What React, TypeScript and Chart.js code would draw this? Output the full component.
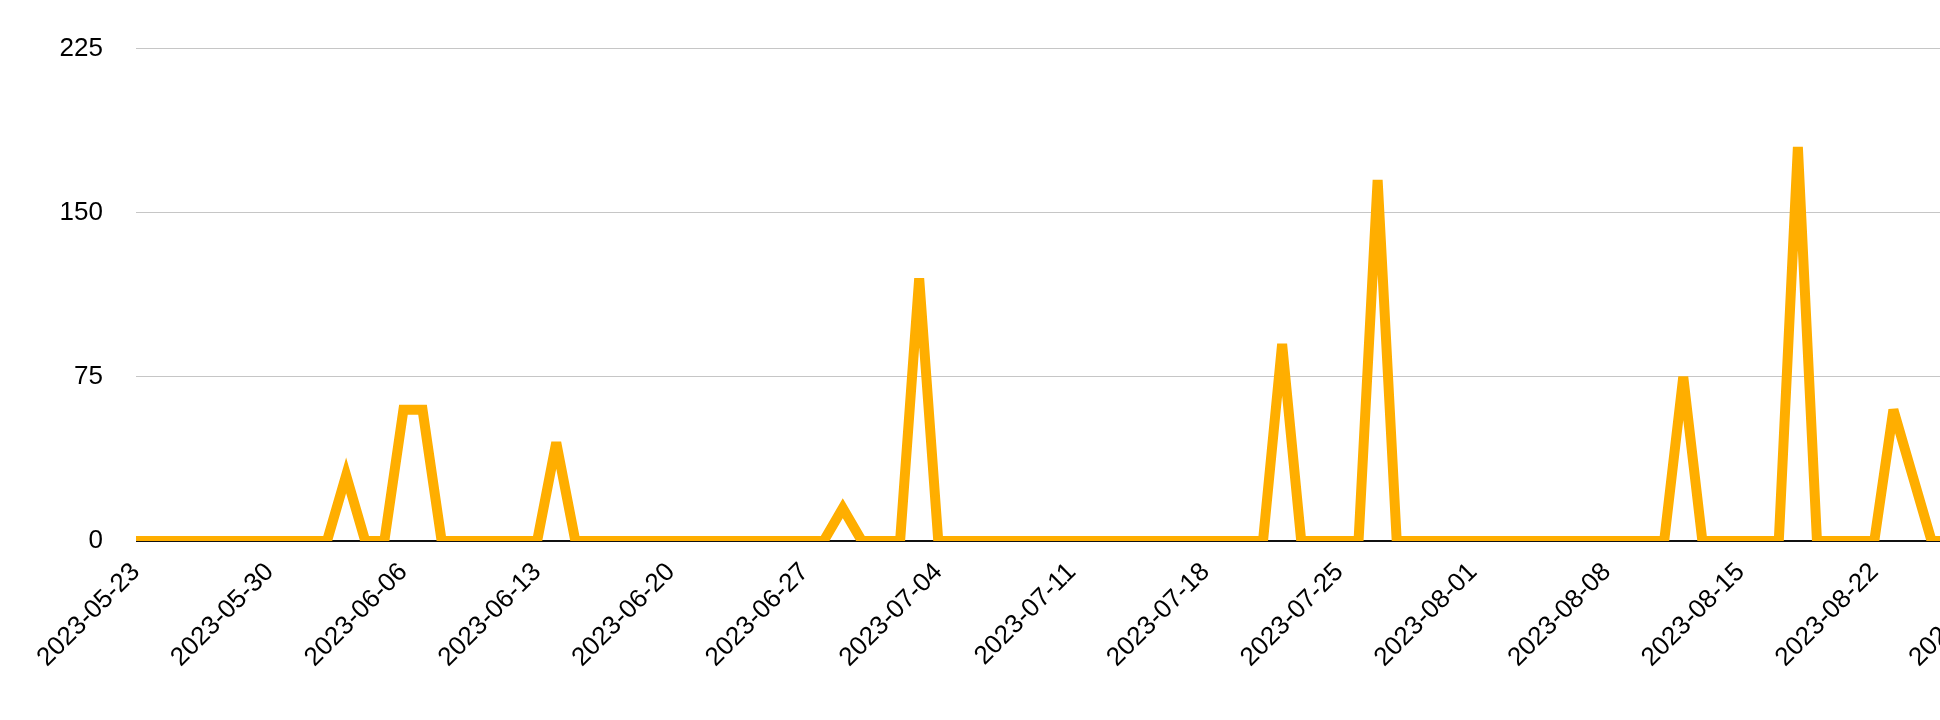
import React, { useEffect, useRef } from "react";
import { Chart, registerables } from "chart.js";

Chart.register(...registerables);

// Category labels: one per day
const mayDays: string[] = [
  "2023-05-23", "2023-05-24", "2023-05-25", "2023-05-26", "2023-05-27", "2023-05-28", "2023-05-29",
  "2023-05-30", "2023-05-31",
];
const juneDays: string[] = [
  "2023-06-01", "2023-06-02", "2023-06-03", "2023-06-04", "2023-06-05", "2023-06-06", "2023-06-07",
  "2023-06-08", "2023-06-09", "2023-06-10", "2023-06-11", "2023-06-12", "2023-06-13", "2023-06-14",
  "2023-06-15", "2023-06-16", "2023-06-17", "2023-06-18", "2023-06-19", "2023-06-20", "2023-06-21",
  "2023-06-22", "2023-06-23", "2023-06-24", "2023-06-25", "2023-06-26", "2023-06-27", "2023-06-28",
  "2023-06-29", "2023-06-30",
];
const julyDays: string[] = [
  "2023-07-01", "2023-07-02", "2023-07-03", "2023-07-04", "2023-07-05", "2023-07-06", "2023-07-07",
  "2023-07-08", "2023-07-09", "2023-07-10", "2023-07-11", "2023-07-12", "2023-07-13", "2023-07-14",
  "2023-07-15", "2023-07-16", "2023-07-17", "2023-07-18", "2023-07-19", "2023-07-20", "2023-07-21",
  "2023-07-22", "2023-07-23", "2023-07-24", "2023-07-25", "2023-07-26", "2023-07-27", "2023-07-28",
  "2023-07-29", "2023-07-30", "2023-07-31",
];
const augustDays: string[] = [
  "2023-08-01", "2023-08-02", "2023-08-03", "2023-08-04", "2023-08-05", "2023-08-06", "2023-08-07",
  "2023-08-08", "2023-08-09", "2023-08-10", "2023-08-11", "2023-08-12", "2023-08-13", "2023-08-14",
  "2023-08-15", "2023-08-16", "2023-08-17", "2023-08-18", "2023-08-19", "2023-08-20", "2023-08-21",
  "2023-08-22", "2023-08-23", "2023-08-24", "2023-08-25", "2023-08-26", "2023-08-27", "2023-08-28",
  "2023-08-29",
];
const dateLabels: string[] = [...mayDays, ...juneDays, ...julyDays, ...augustDays];

// Daily values (7 per row, starting 2023-05-23)
const values: number[] = [
  0, 0, 0, 0, 0, 0, 0,
  0, 0, 0, 0, 30, 0, 0,
  60, 60, 0, 0, 0, 0, 0,
  0, 45, 0, 0, 0, 0, 0,
  0, 0, 0, 0, 0, 0, 0,
  0, 0, 15, 0, 0, 0, 120,
  0, 0, 0, 0, 0, 0, 0,
  0, 0, 0, 0, 0, 0, 0,
  0, 0, 0, 0, 90, 0, 0,
  0, 0, 165, 0, 0, 0, 0,
  0, 0, 0, 0, 0, 0, 0,
  0, 0, 0, 0, 75, 0, 0,
  0, 0, 0, 180, 0, 0, 0,
  0, 60, 30, 0, 0, 0, 0,
  0,
];

const yMin = 0;
const yMax = 225;
const yStep = 75;
const labelEvery = 7;

const LINE_COLOR = "#ffae00";
const FONT_FAMILY = 'Helvetica, Arial, "Liberation Sans", sans-serif';

const miterPlugin = {
  id: "miterLimit",
  beforeDatasetsDraw(chart: any) {
    chart.ctx.miterLimit = 4;
  },
  afterDatasetsDraw(chart: any) {
    chart.ctx.miterLimit = 10;
  },
};

export default function App() {
  const ref = useRef<HTMLCanvasElement>(null);

  useEffect(() => {
    if (!ref.current) return;
    const chart = new Chart(ref.current, {
      type: "line",
      data: {
        labels: dateLabels,
        datasets: [
          {
            data: values,
            borderColor: LINE_COLOR,
            backgroundColor: LINE_COLOR,
            borderWidth: 10,
            pointRadius: 0,
            pointHoverRadius: 0,
            tension: 0,
            fill: false,
            borderJoinStyle: "miter",
            borderCapStyle: "butt",
          },
        ],
      },
      options: {
        animation: false,
        responsive: true,
        maintainAspectRatio: false,
        layout: { padding: { top: 40, right: 60, bottom: 0, left: 0 } },
        plugins: {
          legend: { display: false },
          tooltip: { enabled: false },
        },
        scales: {
          x: {
            grid: { display: false, drawTicks: false },
            border: { display: false },
            ticks: {
              autoSkip: false,
              minRotation: 45,
              maxRotation: 45,
              padding: 16,
              color: "#000",
              font: { family: FONT_FAMILY, size: 26 },
              callback: (_v: any, i: number) => (i % labelEvery === 0 ? dateLabels[i] : ""),
            },
            afterFit: (s: any) => {
              s.height = 179;
            },
          },
          y: {
            min: yMin,
            max: yMax,
            ticks: {
              stepSize: yStep,
              padding: 33,
              color: "#000",
              font: { family: FONT_FAMILY, size: 26 },
            },
            grid: {
              drawTicks: false,
              color: (ctx: any) => (ctx.tick && ctx.tick.value === 0 ? "#111" : "#c6c6c6"),
              lineWidth: (ctx: any) => (ctx.tick && ctx.tick.value === 0 ? 2 : 1),
            },
            border: { display: false },
            afterFit: (s: any) => {
              s.width = 136;
            },
          },
        },
      },
      plugins: [miterPlugin],
    } as any);
    return () => chart.destroy();
  }, []);

  return (
    <div
      style={{
        position: "fixed",
        left: 0,
        top: 0,
        width: 1940,
        height: 720,
        overflow: "hidden",
        background: "#fff",
      }}
    >
      <div style={{ position: "relative", width: 2068, height: 720 }}>
        <canvas ref={ref} />
      </div>
    </div>
  );
}
